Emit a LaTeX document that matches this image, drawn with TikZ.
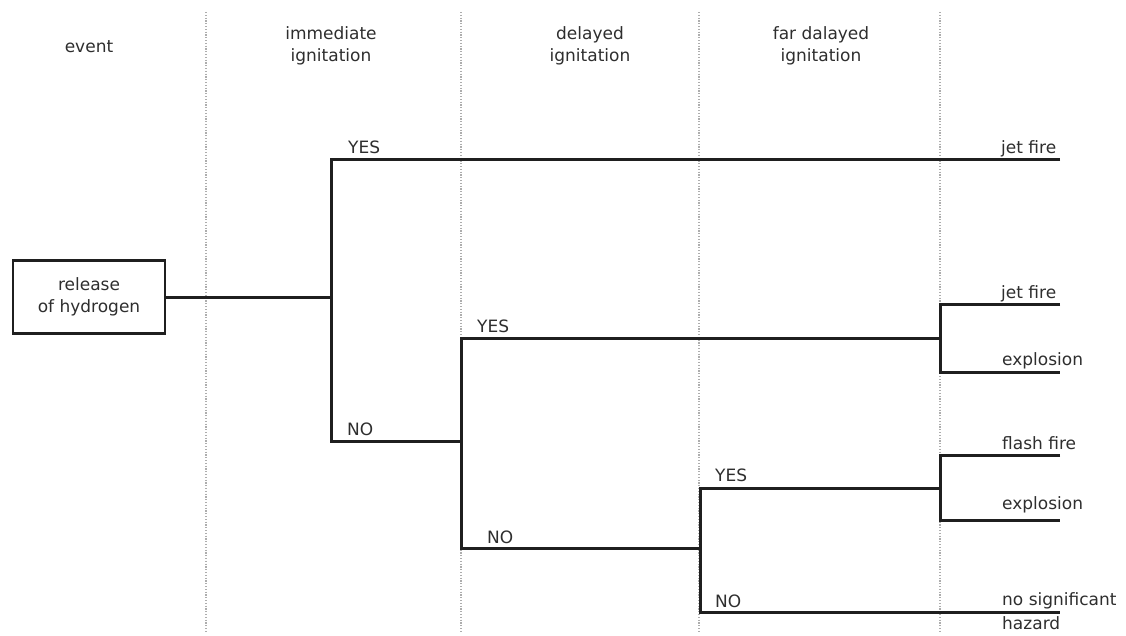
\documentclass[tikz,border=0pt]{standalone}
\usepackage{fontspec}
\setmainfont{DejaVu Sans}
\begin{document}
\begin{tikzpicture}[x=1pt,y=-1pt,
  txt/.style={text=black!82, font=\fontsize{17}{22}\selectfont, inner sep=0pt},
  hdr/.style={txt, align=center},
  lbl/.style={txt, anchor=base west},
  branch/.style={draw=black!88, line width=3pt},
  sep/.style={draw=black!32, line width=1.6pt, dash pattern=on 1.2pt off 1.6pt},
  evbox/.style={draw=black!88, line width=2.8pt, minimum width=152pt, minimum height=73pt, txt, align=center}]
\useasboundingbox (0,0) rectangle (1126,635);
% column separators
\foreach \n/\x in {s1/206, s2/461, s3/699, s4/940}{
  \coordinate (\n t) at (\x,12);
  \coordinate (\n b) at (\x,632);
  \draw[sep] (\n t) -- (\n b);
}
% headers
\node[hdr] (h0) at (89,47) {event};
\node[hdr] (h1) at (331,46) {immediate\\ignitation};
\node[hdr] (h2) at (590,46) {delayed\\ignitation};
\node[hdr] (h3) at (821,46) {far dalayed\\ignitation};
% event box
\node[evbox] (ev) at (89,297) {release\\of hydrogen};
% branch points
\coordinate (a) at (331,297);
\coordinate (ay) at (331,159);
\coordinate (an) at (331,441);
\coordinate (b) at (461,441);
\coordinate (by) at (461,338);
\coordinate (bn) at (461,548);
\coordinate (c) at (940,338);
\coordinate (cy) at (940,304);
\coordinate (cn) at (940,372);
\coordinate (d) at (700,548);
\coordinate (dy) at (700,488);
\coordinate (dn) at (700,612);
\coordinate (e) at (940,488);
\coordinate (ey) at (940,455);
\coordinate (en) at (940,520);
% leaves
\coordinate (l1) at (1060,159);
\coordinate (l2) at (1060,304);
\coordinate (l3) at (1060,372);
\coordinate (l4) at (1060,455);
\coordinate (l5) at (1060,520);
\coordinate (l6) at (1060,612);
% connectors
\draw[branch] (ev.east) -- (a);
\draw[branch] (l1) -- (ay) -- (an) -- (b);
\draw[branch] (c) -- (by) -- (bn) -- (d);
\draw[branch] (l2) -- (cy) -- (cn) -- (l3);
\draw[branch] (e) -- (dy) -- (dn) -- (l6);
\draw[branch] (l4) -- (ey) -- (en) -- (l5);
% branch labels
\node[lbl] (t1) at (348,153) {YES};
\node[lbl] (t2) at (347,435) {NO};
\node[lbl] (t3) at (477,332) {YES};
\node[lbl] (t4) at (487,543) {NO};
\node[lbl] (t5) at (715,481) {YES};
\node[lbl] (t6) at (715,607) {NO};
% outcome labels
\node[lbl] (o1) at (1001,153) {jet fire};
\node[lbl] (o2) at (1001,298) {jet fire};
\node[lbl] (o3) at (1002,365) {explosion};
\node[lbl] (o4) at (1002,449) {flash fire};
\node[lbl] (o5) at (1002,509) {explosion};
\node[lbl] (o6) at (1002,605) {no significant};
\node[lbl] (o7) at (1002,629) {hazard};
\end{tikzpicture}
\end{document}
